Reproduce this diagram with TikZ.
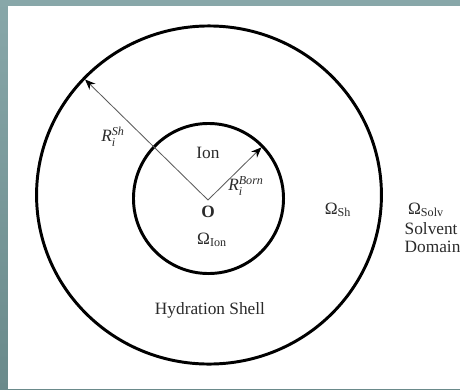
\documentclass[tikz,border=0pt]{standalone}
\usepackage{fontspec}
\setmainfont{Liberation Serif}
\usepackage{amsmath}
\usetikzlibrary{arrows.meta,positioning,shapes.geometric}
\definecolor{hyBgTop}{HTML}{88A7A9}
\definecolor{hyBgBot}{HTML}{6A8A8B}
\definecolor{hyInk}{HTML}{2A2A2A}
\definecolor{hyRay}{HTML}{5C5C5C}
\tikzset{
  % thick boundary of a domain
  bnd/.style={draw=black,line width=2.1pt,inner sep=0pt,outer sep=0pt},
  % radius arrow
  arr/.style={-{Stealth[length=2.6mm,width=2.1mm,color=black]},
    line width=0.6pt,color=hyRay,shorten >=1pt},
  % labels
  lbl/.style={font=\fontsize{12.3}{13}\selectfont,text=hyInk,inner sep=1pt},
}
\begin{document}
\begin{tikzpicture}[x=0.025cm,y=-0.025cm]
  % Backdrop
  \fill[top color=hyBgTop,bottom color=hyBgBot] (0,0) rectangle (460,389);
  \fill[white] (8,6) rectangle (460,389);
  \useasboundingbox (0,0) rectangle (460,389);

  % Domains
  \node[bnd,ellipse,minimum width=8.62cm,minimum height=8.45cm] (shell) at (209,195) {};
  \node[bnd,circle,minimum size=3.75cm] (ion) at (208.5,198.5) {};

  % Centre and radii
  \coordinate (ctr) at (208,200);
  \node[lbl,font=\fontsize{12.3}{13}\selectfont\bfseries] (O) at (208,212) {O};
  \draw[arr] (ctr) -- (ion.44);
  \draw[arr] (ctr) -- (shell.137);

  % Labels
  \node[lbl] (ionlbl) at (208,153) {Ion};
  \node[lbl] (rsh) at (113,137) {\textit{R}$^{\textit{Sh}}_{\textit{i}}$};
  \node[lbl] (rborn) at (246,186) {\textit{R}$^{\textit{Born}}_{\textit{i}}$};
  \node[lbl] (omion) at (212,240) {Ω$_{\text{Ion}}$};
  \node[lbl] (omsh) at (338,210) {Ω$_{\text{Sh}}$};
  \node[lbl] (omsolv) at (426,210) {Ω$_{\text{Solv}}$};
  \node[lbl,align=left,anchor=north west] (solv) at (403,221) {Solvent\\Domain};
  \node[lbl] (hyd) at (210,310) {Hydration Shell};
\end{tikzpicture}
\end{document}
